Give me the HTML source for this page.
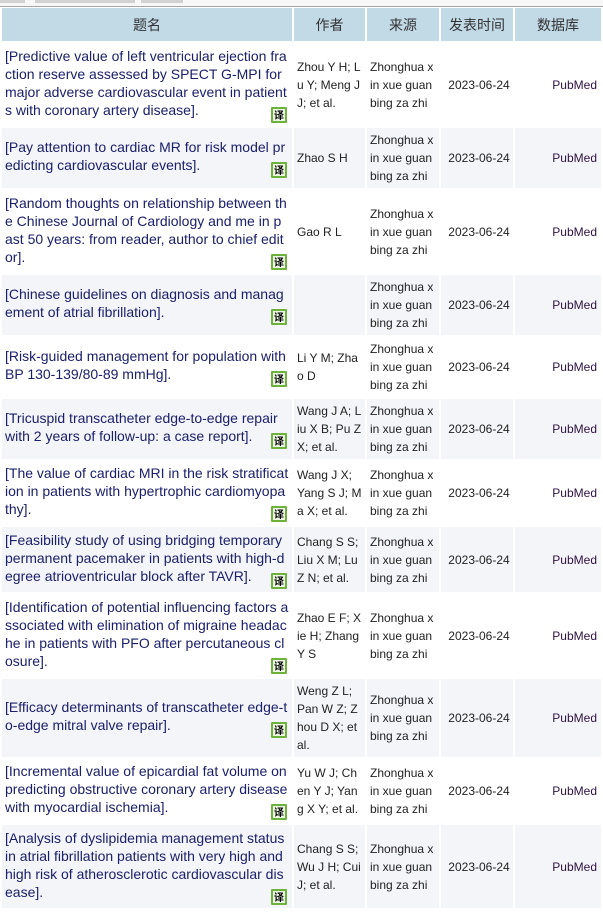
<!DOCTYPE html>
<html><head><meta charset="utf-8">
<style>
html,body{margin:0;padding:0;background:#fff;}
body{width:603px;height:917px;position:relative;overflow:hidden;font-family:"Liberation Sans","Noto Sans CJK SC",sans-serif;}
.topbg{position:absolute;left:0;top:0;width:603px;height:6px;background:#f7f7f7;}
.bar{position:absolute;top:0;height:3px;background:#d2d2d2;}
.line{position:absolute;left:0;top:6px;width:603px;height:1px;background:#a6a6a6;}
table{position:absolute;left:0;top:6px;width:603px;border-collapse:separate;border-spacing:2px;table-layout:fixed;}
th{background:#c1dae6;color:#333;font-weight:normal;font-size:14px;font-family:"Liberation Sans","Noto Sans CJK SC",sans-serif;height:33px;padding:0;text-align:center;vertical-align:middle;}
td{padding:0 3px;vertical-align:middle;font-size:12px;line-height:18px;color:#222;white-space:nowrap;overflow:hidden;}
tr.g td{background:#f4f5f9;}
td.t{font-size:14px;color:#1a206c;padding-right:3px;}
td.d{text-align:center;color:#222;padding-left:5px;padding-right:1px;}
td.p{text-align:right;padding-right:4px;color:#2e1240;}
.yi{float:right;width:12px;height:12px;border:2px solid #6cb23c;background:#eef7e4;margin:6px 2px 0 0;font:bold 10px/12px "Noto Sans CJK SC",sans-serif;text-align:center;color:#000;border-radius:1px;}
</style></head><body>
<div class="topbg"></div>
<div class="bar" style="left:0;width:25px"></div>
<div class="bar" style="left:35px;width:100px"></div>
<div class="bar" style="left:141px;width:42px"></div>
<div class="line"></div>
<table>
<colgroup><col style="width:290px"><col style="width:71px"><col style="width:72px"><col style="width:72px"><col style="width:86px"></colgroup>
<tr><th>题名</th><th>作者</th><th>来源</th><th>发表时间</th><th>数据库</th></tr>

<tr style="height:83px"><td class="t">[Predictive value of left ventricular ejection fra<br>ction reserve assessed by SPECT G-MPI for<br>major adverse cardiovascular event in patient<br>s with coronary artery disease].<span class="yi">译</span></td><td>Zhou Y H; L<br>u Y; Meng J<br>J; et al.</td><td>Zhonghua x<br>in xue guan<br>bing za zhi</td><td class="d">2023-06-24</td><td class="p">PubMed</td></tr>

<tr class="g" style="height:60px"><td class="t">[Pay attention to cardiac MR for risk model pr<br>edicting cardiovascular events].<span class="yi">译</span></td><td>Zhao S H</td><td>Zhonghua x<br>in xue guan<br>bing za zhi</td><td class="d">2023-06-24</td><td class="p">PubMed</td></tr>

<tr style="height:83px"><td class="t">[Random thoughts on relationship between th<br>e Chinese Journal of Cardiology and me in p<br>ast 50 years: from reader, author to chief edit<br>or].<span class="yi">译</span></td><td>Gao R L</td><td>Zhonghua x<br>in xue guan<br>bing za zhi</td><td class="d">2023-06-24</td><td class="p">PubMed</td></tr>

<tr class="g" style="height:60px"><td class="t">[Chinese guidelines on diagnosis and manag<br>ement of atrial fibrillation].<span class="yi">译</span></td><td></td><td>Zhonghua x<br>in xue guan<br>bing za zhi</td><td class="d">2023-06-24</td><td class="p">PubMed</td></tr>

<tr style="height:60px"><td class="t">[Risk-guided management for population with<br>BP 130-139/80-89 mmHg].<span class="yi">译</span></td><td>Li Y M; Zha<br>o D</td><td>Zhonghua x<br>in xue guan<br>bing za zhi</td><td class="d">2023-06-24</td><td class="p">PubMed</td></tr>

<tr class="g" style="height:60px"><td class="t">[Tricuspid transcatheter edge-to-edge repair<br>with 2 years of follow-up: a case report].<span class="yi">译</span></td><td>Wang J A; L<br>iu X B; Pu Z<br>X; et al.</td><td>Zhonghua x<br>in xue guan<br>bing za zhi</td><td class="d">2023-06-24</td><td class="p">PubMed</td></tr>

<tr style="height:64px"><td class="t">[The value of cardiac MRI in the risk stratificat<br>ion in patients with hypertrophic cardiomyopa<br>thy].<span class="yi">译</span></td><td>Wang J X;<br>Yang S J; M<br>a X; et al.</td><td>Zhonghua x<br>in xue guan<br>bing za zhi</td><td class="d">2023-06-24</td><td class="p">PubMed</td></tr>

<tr class="g" style="height:65px"><td class="t">[Feasibility study of using bridging temporary<br>permanent pacemaker in patients with high-d<br>egree atrioventricular block after TAVR].<span class="yi">译</span></td><td>Chang S S;<br>Liu X M; Lu<br>Z N; et al.</td><td>Zhonghua x<br>in xue guan<br>bing za zhi</td><td class="d">2023-06-24</td><td class="p">PubMed</td></tr>

<tr style="height:83px"><td class="t">[Identification of potential influencing factors a<br>ssociated with elimination of migraine headac<br>he in patients with PFO after percutaneous cl<br>osure].<span class="yi">译</span></td><td>Zhao E F; X<br>ie H; Zhang<br>Y S</td><td>Zhonghua x<br>in xue guan<br>bing za zhi</td><td class="d">2023-06-24</td><td class="p">PubMed</td></tr>

<tr class="g" style="height:78px"><td class="t">[Efficacy determinants of transcatheter edge-t<br>o-edge mitral valve repair].<span class="yi">译</span></td><td>Weng Z L;<br>Pan W Z; Z<br>hou D X; et<br>al.</td><td>Zhonghua x<br>in xue guan<br>bing za zhi</td><td class="d">2023-06-24</td><td class="p">PubMed</td></tr>

<tr style="height:64px"><td class="t">[Incremental value of epicardial fat volume on<br>predicting obstructive coronary artery disease<br>with myocardial ischemia].<span class="yi">译</span></td><td>Yu W J; Ch<br>en Y J; Yan<br>g X Y; et al.</td><td>Zhonghua x<br>in xue guan<br>bing za zhi</td><td class="d">2023-06-24</td><td class="p">PubMed</td></tr>

<tr class="g" style="height:83px"><td class="t">[Analysis of dyslipidemia management status<br>in atrial fibrillation patients with very high and<br>high risk of atherosclerotic cardiovascular dis<br>ease].<span class="yi">译</span></td><td>Chang S S;<br>Wu J H; Cui<br>J; et al.</td><td>Zhonghua x<br>in xue guan<br>bing za zhi</td><td class="d">2023-06-24</td><td class="p">PubMed</td></tr>
</table>
</body></html>
